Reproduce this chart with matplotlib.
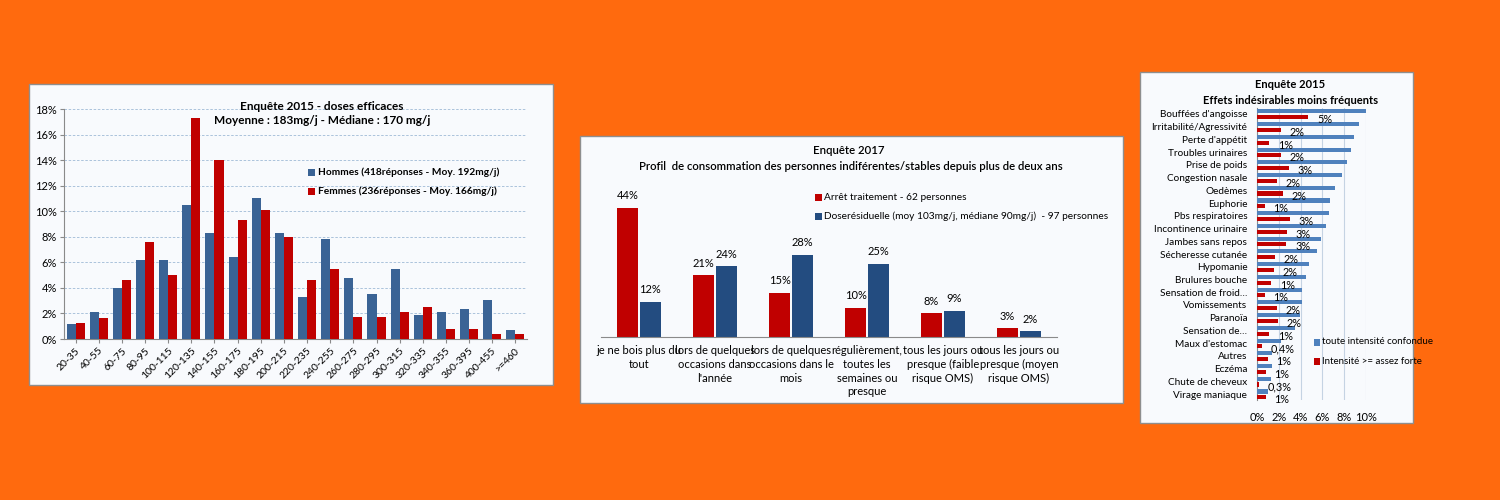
import matplotlib.pyplot as plt
import numpy as np
from matplotlib.patches import Rectangle

plt.rcParams["font.family"] = ["Lato", "DejaVu Sans"]

ORANGE = "#FF6A0E"
BLUE1 = "#3A6395"
BLUE2 = "#234C80"
BLUE3 = "#4F81BD"
RED = "#C00000"
PANEL = "#F8FAFD"

# --- chart 1: doses efficaces (2015) ---
dose_bins = ["20-35", "40-55", "60-75", "80-95", "100-115", "120-135", "140-155",
             "160-175", "180-195", "200-215", "220-235", "240-255", "260-275",
             "280-295", "300-315", "320-335", "340-355", "360-395", "400-455", ">=460"]
hommes = [1.2, 2.1, 4.0, 6.2, 6.2, 10.5, 8.3, 6.4, 11.0, 8.3,
          3.3, 7.8, 4.8, 3.5, 5.5, 1.9, 2.1, 2.35, 3.05, 0.7]
femmes = [1.25, 1.65, 4.6, 7.6, 5.0, 17.3, 14.0, 9.3, 10.1, 8.0,
          4.6, 5.5, 1.7, 1.7, 2.1, 2.5, 0.8, 0.8, 0.4, 0.4]

# --- chart 2: profil de consommation (2017) ---
profils = ["je ne bois plus du\ntout",
           "lors de quelques\noccasions dans\nl'année",
           "lors de quelques\noccasions dans le\nmois",
           "régulièrement,\ntoutes les\nsemaines ou\npresque",
           "tous les jours ou\npresque (faible\nrisque OMS)",
           "tous les jours ou\npresque (moyen\nrisque OMS)"]
arret = [44, 21, 15, 10, 8, 3]
residuelle = [12, 24, 28, 25, 9, 2]

# --- chart 3: effets indésirables (2015) ---
effets = ["Bouffées d'angoisse", "Irritabilité/Agressivité", "Perte d'appétit",
          "Troubles urinaires", "Prise de poids", "Congestion nasale", "Oedèmes",
          "Euphorie", "Pbs respiratoires", "Incontinence urinaire", "Jambes sans repos",
          "Sécheresse cutanée", "Hypomanie", "Brulures bouche", "Sensation de froid…",
          "Vomissements", "Paranoïa", "Sensation de…", "Maux d'estomac", "Autres",
          "Eczéma", "Chute de cheveux", "Virage maniaque"]
toute_intensite = [10.0, 9.4, 8.9, 8.6, 8.3, 7.8, 7.2, 6.7, 6.6, 6.3, 5.9, 5.5,
                   4.8, 4.45, 4.1, 4.1, 3.9, 3.5, 2.2, 1.4, 1.4, 1.3, 1.0]
intensite_forte = [4.7, 2.2, 1.1, 2.2, 2.9, 1.8, 2.4, 0.7, 3.0, 2.75, 2.7, 1.65,
                   1.55, 1.3, 0.7, 1.8, 1.9, 1.1, 0.45, 1.0, 0.8, 0.2, 0.8]
forte_labels = ["5%", "2%", "1%", "2%", "3%", "2%", "2%", "1%", "3%", "3%", "3%", "2%",
                "2%", "1%", "1%", "2%", "2%", "1%", "0,4%", "1%", "1%", "0,3%", "1%"]

W, H = 1500, 500


def rect(x0, y0, x1, y1):
    # pixel box (top-left origin) -> figure fraction [l, b, w, h]
    return [x0 / W, 1 - y1 / H, (x1 - x0) / W, (y1 - y0) / H]


def panel(fig, x0, y0, x1, y1):
    l, b, w, h = rect(x0, y0, x1, y1)
    fig.patches.append(Rectangle((l, b), w, h, transform=fig.transFigure,
                                 facecolor=PANEL, edgecolor="#8E8E8E",
                                 linewidth=1.0, zorder=-5))


def fig_text(fig, x, y, s, **kw):
    fig.text(x / W, 1 - y / H, s, **kw)


fig = plt.figure(figsize=(15, 5), dpi=100, facecolor=ORANGE)

# ---------------- chart 1 ----------------
panel(fig, 29, 84, 553, 385)
ax1 = fig.add_axes(rect(64, 109, 527, 339))
ax1.set_facecolor("none")
x = np.arange(len(dose_bins))
ax1.bar(x - 0.195, hommes, 0.39, color=BLUE1, zorder=3)
ax1.bar(x + 0.195, femmes, 0.39, color=RED, zorder=3)
ax1.set_xlim(-0.5, len(dose_bins) - 0.5)
ax1.set_ylim(0, 18)
ax1.set_yticks(np.arange(0, 19, 2))
ax1.set_yticklabels([f"{v}%" for v in range(0, 19, 2)], fontsize=8)
ax1.set_xticks(x)
ax1.set_xticklabels(dose_bins, rotation=45, ha="right", rotation_mode="anchor", fontsize=7.5)
ax1.grid(axis="y", linestyle=(0, (3, 2)), linewidth=0.6, color="#9FBAD6", zorder=0)
for s in ["top", "right"]:
    ax1.spines[s].set_visible(False)
for s in ["left", "bottom"]:
    ax1.spines[s].set_color("#8A8A8A")
ax1.tick_params(axis="both", length=3, color="#8A8A8A", pad=2)
fig_text(fig, 322, 106, "Enquête 2015 - doses efficaces", ha="center", va="center",
         fontsize=8.5, fontweight="bold")
fig_text(fig, 322, 121, "Moyenne : 183mg/j - Médiane : 170 mg/j", ha="center", va="center",
         fontsize=8.5, fontweight="bold")
for yy, col, lab in [(172, BLUE1, "Hommes (418réponses - Moy. 192mg/j)"),
                     (191, RED, "Femmes (236réponses - Moy. 166mg/j)")]:
    fig.patches.append(Rectangle((308 / W, 1 - (yy + 3.5) / H), 7 / W, 7 / H,
                                 transform=fig.transFigure, facecolor=col, zorder=2))
    fig_text(fig, 318, yy, lab, ha="left", va="center", fontsize=7.3, fontweight="bold")

# ---------------- chart 2 ----------------
panel(fig, 580, 136, 1123, 403)
ax2 = fig.add_axes(rect(601, 190, 1057, 337))
ax2.set_facecolor("none")
x2 = np.arange(len(profils))
b_r = ax2.bar(x2 - 0.15, arret, 0.27, color=RED)
b_b = ax2.bar(x2 + 0.15, residuelle, 0.27, color=BLUE2)
for bars, vals in [(b_r, arret), (b_b, residuelle)]:
    for bar, v in zip(bars, vals):
        ax2.text(bar.get_x() + bar.get_width() / 2, v + 2.2, f"{v}%",
                 ha="center", va="bottom", fontsize=8)
ax2.set_xlim(-0.5, len(profils) - 0.5)
ax2.set_ylim(0, 50)
ax2.set_yticks([])
ax2.set_xticks(x2)
ax2.set_xticklabels(profils, fontsize=8, linespacing=1.3, va="top")
ax2.tick_params(axis="x", length=0, pad=6)
for s in ["top", "right", "left"]:
    ax2.spines[s].set_visible(False)
ax2.spines["bottom"].set_color("#8A8A8A")
fig_text(fig, 849, 150, "Enquête 2017", ha="center", va="center", fontsize=8.2,
         fontweight="semibold")
fig_text(fig, 851, 166, "Profil  de consommation des personnes indiférentes/stables depuis plus de deux ans",
         ha="center", va="center", fontsize=8.2, fontweight="semibold")
for yy, col, lab in [(197, RED, "Arrêt traitement - 62 personnes"),
                     (216, BLUE2, "Doserésiduelle (moy 103mg/j, médiane 90mg/j)  - 97 personnes")]:
    fig.patches.append(Rectangle((815 / W, 1 - (yy + 3.5) / H), 7 / W, 7 / H,
                                 transform=fig.transFigure, facecolor=col, zorder=2))
    fig_text(fig, 824, yy, lab, ha="left", va="center", fontsize=7.3)

# ---------------- chart 3 ----------------
panel(fig, 1140, 72, 1413, 423)
ax3 = fig.add_axes(rect(1257, 107.6, 1366, 400.4))
ax3.set_facecolor("none")
y3 = np.arange(len(effets))
ax3.barh(y3 - 0.2, toute_intensite, 0.32, color=BLUE3, zorder=3)
ax3.barh(y3 + 0.25, intensite_forte, 0.32, color=RED, zorder=3)
for yi, v, lab in zip(y3, intensite_forte, forte_labels):
    ax3.text(v + 0.8, yi + 0.45, lab, ha="left", va="center", fontsize=7.8, zorder=4)
ax3.set_xlim(0, 10)
ax3.set_ylim(len(effets) - 0.5, -0.5)
ax3.set_xticks(np.arange(0, 11, 2))
ax3.set_xticklabels([f"{v}%" for v in range(0, 11, 2)], fontsize=8)
ax3.set_yticks(y3)
ax3.set_yticklabels(effets, fontsize=7.2)
ax3.tick_params(axis="y", length=0, pad=7)
ax3.tick_params(axis="x", length=0, pad=8)
ax3.grid(axis="x", color="#C5D3E3", linewidth=0.8, zorder=0)
for s in ["top", "right", "bottom"]:
    ax3.spines[s].set_visible(False)
ax3.spines["left"].set_color("#8A8A8A")
fig_text(fig, 1290, 85, "Enquête 2015", ha="center", va="center", fontsize=8,
         fontweight="bold")
fig_text(fig, 1291, 101, "Effets indésirables moins fréquents", ha="center", va="center",
         fontsize=8, fontweight="bold")
for yy, col, lab in [(342, BLUE3, "toute intensité confondue"),
                     (361, RED, "Intensité >= assez forte")]:
    fig.patches.append(Rectangle((1314 / W, 1 - (yy + 3.5) / H), 6 / W, 7 / H,
                                 transform=fig.transFigure, facecolor=col, zorder=2))
    fig_text(fig, 1322, yy, lab, ha="left", va="center", fontsize=7)

fig.savefig("out.png", dpi=100, facecolor=ORANGE)
